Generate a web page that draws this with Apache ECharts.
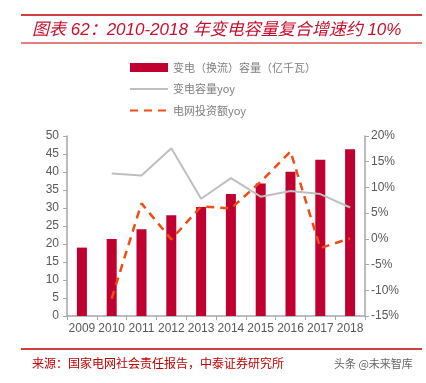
<!DOCTYPE html>
<html>
<head>
<meta charset="utf-8">
<script src="https://cdn.jsdelivr.net/npm/echarts@6/dist/echarts.min.js"></script>
<style>html,body{margin:0;padding:0;background:#fff}#c{width:426px;height:383px}</style>
</head>
<body>
<div id="c"></div>
<script>
const categories = ['2009','2010','2011','2012','2013','2014','2015','2016','2017','2018'];
const capacity = [19.0, 21.4, 24.1, 28.0, 30.3, 33.9, 36.8, 40.1, 43.4, 46.3];
const capacityYoy = [null, 12.7, 12.3, 17.6, 7.8, 11.8, 8.2, 9.3, 8.7, 6.1];
const investYoy = [null, -11.6, 6.9, -0.1, 6.3, 5.9, 11.1, 17.0, -1.8, 0.1];
const seriesNames = ['变电（换流）容量（亿千瓦）', '变电容量yoy', '电网投资额yoy'];
const titleText = '图表 62：2010-2018 年变电容量复合增速约 10%';
const sourceText = '来源：国家电网社会责任报告，中泰证券研究所';
const watermark = '头条 @未来智库';

const chart = echarts.init(document.getElementById('c'), null, {renderer: 'canvas'});
const axisColor = '#a6a6a6';
const labelColor = '#595959';
const font = '"Liberation Sans", Arial, sans-serif';
chart.setOption({
  animation: false,
  backgroundColor: '#fff',
  textStyle: {fontFamily: font},
  graphic: [
    {type: 'line', shape: {x1: 21, y1: 15, x2: 422, y2: 15}, style: {stroke: '#c00000', lineWidth: 1.5}},
    {type: 'line', shape: {x1: 21, y1: 43, x2: 422, y2: 43}, style: {stroke: '#c00000', lineWidth: 1}},
    {type: 'text', x: 32, y: 30, style: {text: titleText, fill: '#c8102e', font: 'italic 17px "Liberation Sans", "Noto Sans CJK SC", sans-serif', textVerticalAlign: 'middle'}},
    {type: 'line', shape: {x1: 21, y1: 349, x2: 422, y2: 349}, style: {stroke: '#c00000', lineWidth: 1.5}},
    {type: 'text', x: 32, y: 363, style: {text: sourceText, fill: '#c00000', font: '12px "Noto Sans CJK SC", sans-serif', textVerticalAlign: 'middle'}},
    {type: 'text', x: 334, y: 364, style: {text: watermark, fill: '#666', font: '11px "Noto Sans CJK SC", sans-serif', textVerticalAlign: 'middle'}}
  ],
  legend: {
    orient: 'vertical',
    left: 124,
    top: 57,
    itemWidth: 38,
    itemHeight: 9,
    itemGap: 10.5,
    textStyle: {color: '#7f7f7f', fontSize: 11, fontFamily: '"Noto Sans CJK SC", sans-serif'},
    data: [
      {name: seriesNames[0], icon: 'rect'},
      {name: seriesNames[1], itemStyle: {opacity: 0}},
      {name: seriesNames[2], itemStyle: {opacity: 0}}
    ]
  },
  grid: {left: 67, right: 61, top: 136, bottom: 67, containLabel: false},
  xAxis: {
    type: 'category',
    data: categories,
    boundaryGap: true,
    axisLine: {lineStyle: {color: axisColor, width: 1.5}},
    axisTick: {show: true, alignWithLabel: false, interval: 0, length: 4, lineStyle: {color: axisColor}},
    axisLabel: {color: labelColor, fontSize: 12, margin: 7, interval: 0}
  },
  yAxis: [
    {
      type: 'value', min: 0, max: 50, interval: 5,
      axisLine: {show: true, lineStyle: {color: axisColor, width: 1.5}},
      axisTick: {show: true, length: 4, lineStyle: {color: axisColor}},
      axisLabel: {color: labelColor, fontSize: 12, margin: 8},
      splitLine: {show: false}
    },
    {
      type: 'value', min: -15, max: 20, interval: 5, position: 'right',
      axisLine: {show: true, lineStyle: {color: axisColor, width: 1.5}},
      axisTick: {show: true, length: 4, lineStyle: {color: axisColor}},
      axisLabel: {color: labelColor, fontSize: 12, margin: 6, formatter: '{value}%'},
      splitLine: {show: false}
    }
  ],
  series: [
    {
      name: seriesNames[0], type: 'bar', data: capacity, barWidth: 10,
      itemStyle: {color: '#c0002f'}
    },
    {
      name: seriesNames[1], type: 'line', yAxisIndex: 1, data: capacityYoy,
      showSymbol: false, symbol: 'none',
      lineStyle: {color: '#bfbfbf', width: 2},
      itemStyle: {color: '#bfbfbf'}
    },
    {
      name: seriesNames[2], type: 'line', yAxisIndex: 1, data: investYoy,
      showSymbol: false, symbol: 'none',
      lineStyle: {color: '#ee4d14', width: 2.5, type: [8, 6]},
      itemStyle: {color: '#ee4d14'}
    }
  ]
});
</script>
</body>
</html>
